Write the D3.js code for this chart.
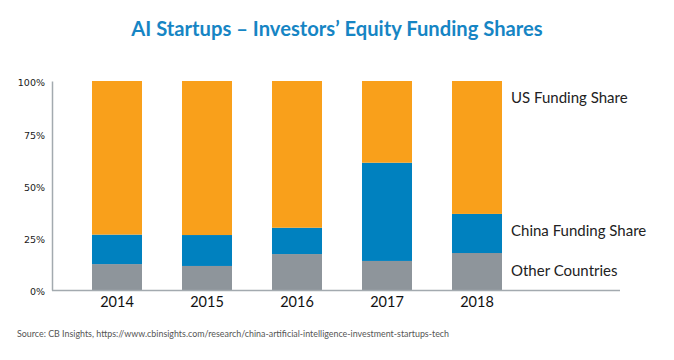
<!DOCTYPE html>
<html><head><meta charset="utf-8">
<script src="https://cdn.jsdelivr.net/npm/d3@7"></script>
<style>body{margin:0;background:#fff}svg{display:block}</style>
</head><body>
<svg id="c" width="674" height="360"></svg>
<script>
const years = ["2014","2015","2016","2017","2018"];
const otherShare = [12.4, 11.5, 17.2, 13.9, 17.7];
const chinaShare = [14.1, 14.8, 12.6, 47.0, 18.7];
const usShare = years.map((d,i)=>100 - otherShare[i] - chinaShare[i]);
const seriesNames = ["Other Countries","China Funding Share","US Funding Share"];
const yTicks = [0,25,50,75,100];

const svg = d3.select("#c");
const colors = {"Other Countries":"#8E959B","China Funding Share":"#0081BF","US Funding Share":"#F9A01B"};
const rows = years.map((y,i)=>({year:y,"Other Countries":otherShare[i],"China Funding Share":chinaShare[i],"US Funding Share":usShare[i]}));
const stack = d3.stack().keys(seriesNames)(rows);

const x = d3.scaleBand().domain(years).range([72,522]).paddingInner(0.4444).paddingOuter(0.2222);
const y = d3.scaleLinear().domain([0,100]).range([290,81]);

svg.append("text").attr("x",337).attr("y",36).attr("text-anchor","middle")
  .attr("font-family","Lato").attr("font-weight","bold").attr("font-size",20.2)
  .attr("fill","#1685C4").text("AI Startups – Investors’ Equity Funding Shares");

const g = svg.append("g");
stack.forEach(s=>{
  g.selectAll(null).data(s).enter().append("rect")
    .attr("x",d=>x(d.data.year)).attr("width",x.bandwidth())
    .attr("y",d=>y(d[1])).attr("height",d=>y(d[0])-y(d[1]))
    .attr("fill",colors[s.key]);
});

// y axis
const ya = svg.append("g").attr("transform","translate(52,0)")
  .call(d3.axisLeft(y).tickValues(yTicks).tickFormat(d=>d+"%").tickSize(0).tickPadding(7));
ya.select(".domain").attr("stroke","#A3AAAF").attr("stroke-width",1.5);
ya.selectAll("text").attr("font-family","'DejaVu Sans', Verdana, sans-serif").attr("font-size",9.5).attr("fill","#1a1a1a").attr("dy","0.5em");

// x axis line
svg.append("line").attr("x1",52).attr("x2",620).attr("y1",290.5).attr("y2",290.5)
  .attr("stroke","#A3AAAF").attr("stroke-width",1.5);
svg.selectAll(".xl").data(years).enter().append("text")
  .attr("x",d=>x(d)+x.bandwidth()/2).attr("y",307).attr("text-anchor","middle")
  .attr("font-family","Lato").attr("font-size",14.5).attr("fill","#111").text(d=>d);

// series labels
const labelY = {"US Funding Share":103,"China Funding Share":236,"Other Countries":276};
svg.selectAll(".sl").data(seriesNames).enter().append("text")
  .attr("x",511).attr("y",d=>labelY[d]).attr("font-family","Lato").attr("font-size",15)
  .attr("fill","#222").text(d=>d);

svg.append("text").attr("x",17).attr("y",337).attr("font-family","Lato").attr("font-size",8.9)
  .attr("fill","#555").text("Source: CB Insights, https://www.cbinsights.com/research/china-artificial-intelligence-investment-startups-tech");
</script>
</body></html>
